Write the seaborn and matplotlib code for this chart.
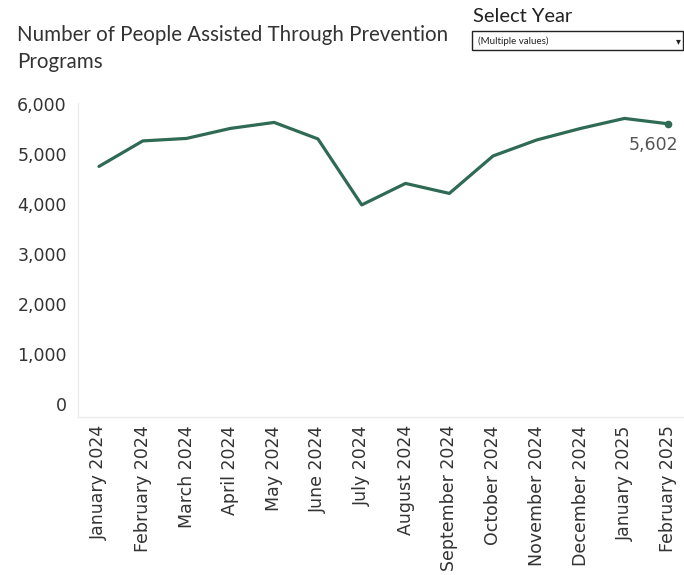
import pandas as pd
import matplotlib.pyplot as plt
import matplotlib.ticker as mticker
from matplotlib.patches import Rectangle
import seaborn as sns

# Datos
months = ["January 2024", "February 2024", "March 2024", "April 2024", "May 2024",
          "June 2024", "July 2024", "August 2024", "September 2024", "October 2024",
          "November 2024", "December 2024", "January 2025", "February 2025"]
people = [4750, 5260, 5310, 5510, 5630, 5300, 3980, 4410, 4210, 4960, 5280, 5510, 5710, 5602]
y_ticks = [0, 1000, 2000, 3000, 4000, 5000, 6000]

df = pd.DataFrame({"month": months, "people": people})

sns.set_style("white")
plt.rcParams["font.family"] = ["DejaVu Sans"]

line_color = "#2f6a55"
text_color = "#333333"

fig = plt.figure(figsize=(6.84, 5.75), dpi=100)
ax = fig.add_axes([0.114, 0.275, 0.886, 0.546])

sns.lineplot(data=df, x="month", y="people", color=line_color, linewidth=2.3,
             sort=False, ax=ax)
# punto y etiqueta del último valor
last = df.iloc[-1]
ax.plot([len(df) - 1], [last["people"]], "o", color=line_color, markersize=4.5)
ax.annotate(f"{last['people']:,.0f}", (len(df) - 1, last["people"]),
            xytext=(7, -9), textcoords="offset points", ha="right", va="top",
            fontsize=12.5, color="#555555")

ax.set_xlim(-0.48, len(df) - 1 + 0.36)
ax.set_ylim(-260, 6020)
ax.set_yticks(y_ticks)
ax.yaxis.set_major_formatter(mticker.FuncFormatter(lambda v, p: f"{v:,.0f}"))
ax.tick_params(axis="y", labelsize=12.5, labelcolor=text_color, length=0, pad=8)
ax.tick_params(axis="x", labelsize=12.5, labelcolor=text_color, rotation=90, length=0, pad=6)
ax.set_xlabel("")
ax.set_ylabel("")

for side in ["top", "right"]:
    ax.spines[side].set_visible(False)
for side in ["left", "bottom"]:
    ax.spines[side].set_color("#ececec")
    ax.spines[side].set_linewidth(1)

# Título
fig.text(17 / 684, 1 - 35 / 575, "Number of People Assisted Through Prevention",
         fontsize=14.8, color=text_color, va="center", ha="left", family="Lato")
fig.text(17 / 684, 1 - 62 / 575, "Programs",
         fontsize=14.8, color=text_color, va="center", ha="left", family="Lato")

# Filtro "Select Year"
fig.text(473 / 684, 1 - 16 / 575, "Select Year", fontsize=14.5, color="#222222",
         va="center", ha="left", family="Lato")
fig.add_artist(Rectangle((472 / 684, 1 - 50 / 575), 211 / 684, 19 / 575,
                         transform=fig.transFigure, facecolor="white",
                         edgecolor="#222222", linewidth=1))
fig.text(478 / 684, 1 - 41 / 575, "(Multiple values)", fontsize=7, color="#222222",
         va="center", ha="left", family="Lato")
fig.text(678 / 684, 1 - 41 / 575, "▾", fontsize=7, color="#222222",
         va="center", ha="center")

plt.savefig("out.png", dpi=100)
